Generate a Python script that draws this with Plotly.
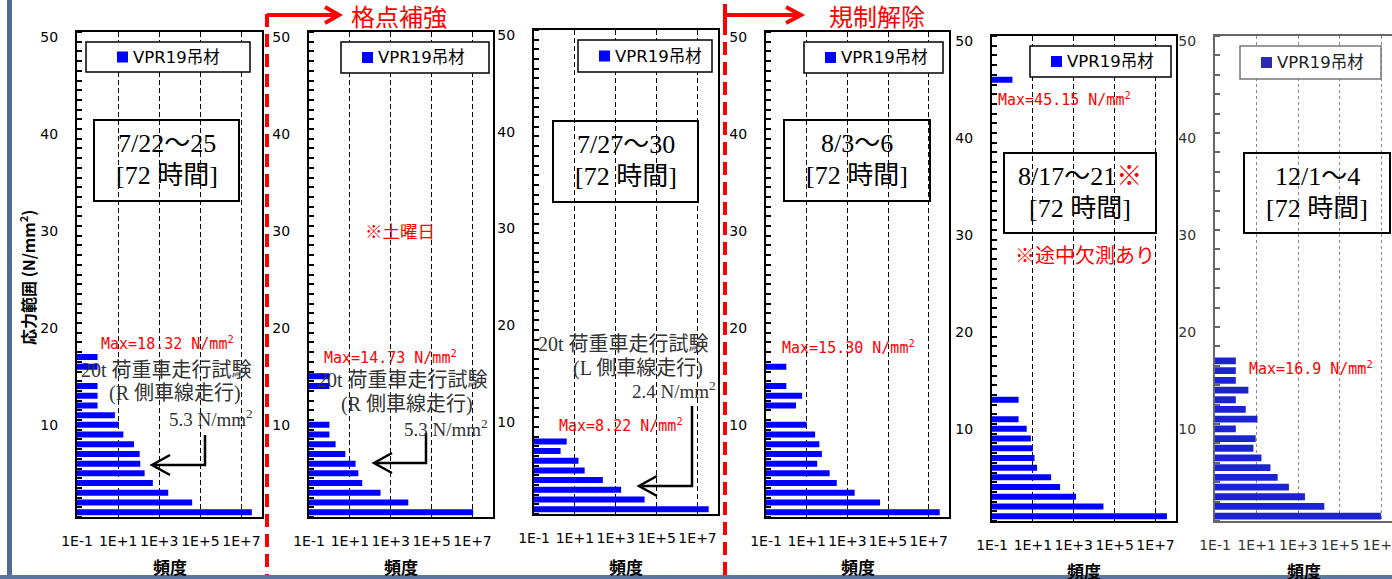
import plotly.graph_objects as go

W, H = 1392, 579

# ---------------- data ----------------
series_name = "VPR19吊材"
tick_vals = [0.1, 10, 1e3, 1e5, 1e7]
tick_text = ["1E-1", "1E+1", "1E+3", "1E+5", "1E+7"]
y_tick_vals = [10, 20, 30, 40, 50]

# stress-range bin (N/mm2, 1 N/mm2 bins) and frequency for each panel
bins_p1 = [1, 2, 3, 4, 5, 6, 7, 8, 9, 10, 11, 12, 13, 14, 16, 17]
freq_p1 = [3.2e7, 40000, 2750, 490, 195, 120, 112, 59, 18, 11, 7, 1, 1, 1, 1, 1]

bins_p2 = [1, 2, 3, 4, 5, 6, 7, 8, 9, 10, 14, 15]
freq_p2 = [1.07e7, 7200, 316, 40, 26, 19, 6, 2, 1, 1, 1, 1]

bins_p3 = [1, 2, 3, 4, 5, 6, 7, 8]
freq_p3 = [3.5e7, 25700, 1820, 234, 30, 15, 2, 4]

bins_p4 = [1, 2, 3, 4, 5, 6, 7, 8, 9, 10, 12, 13, 14, 16]
freq_p4 = [3.5e7, 40700, 2290, 302, 135, 33, 56, 42, 26, 10, 3, 6, 1, 1]

bins_p5 = [1, 2, 3, 4, 5, 6, 7, 8, 9, 10, 11, 13, 46]
freq_p5 = [3.6e7, 28200, 1290, 214, 78, 16, 12, 10, 8, 5, 2, 2, 1]

bins_p6 = [1, 2, 3, 4, 5, 6, 7, 8, 9, 10, 11, 12, 13, 14, 15, 16, 17]
freq_p6 = [9.3e6, 17800, 2090, 355, 102, 46, 17, 7, 9, 1, 11, 3, 1, 4, 1, 1, 1]

max_labels = ["Max=18.32 N/mm<sup>2</sup>", "Max=14.73 N/mm<sup>2</sup>", "Max=8.22 N/mm<sup>2</sup>",
              "Max=15.30 N/mm<sup>2</sup>", "Max=45.15 N/mm<sup>2</sup>", "Max=16.9 N/mm<sup>2</sup>"]
date_labels = ["7/22～25", None, "7/27～30", "8/3～6",
               "8/17～21<span style='color:#ff0000'>※</span>", "12/1～4"]
hours_label = "[72 時間]"

# ---------------- layout helpers ----------------
def X(px):
    return px / W

def Y(py):
    return 1 - py / H

RED = "#ff0000"
BLUE = "#0000ff"
SERIF = "Liberation Serif, Noto Sans CJK JP"
GOTHIC = "Noto Sans CJK JP"
SANS = "DejaVu Sans, Noto Sans CJK JP"
MONO = "DejaVu Sans Mono"

panels = [
    dict(x0=77, x1=262, top=32, bot=517, xr=8, bins=bins_p1, freq=freq_p1),
    dict(x0=309, x1=493, top=32, bot=517, xr=8, bins=bins_p2, freq=freq_p2),
    dict(x0=534, x1=718, top=30, bot=514, xr=8, bins=bins_p3, freq=freq_p3),
    dict(x0=766, x1=949, top=32, bot=517, xr=8, bins=bins_p4, freq=freq_p4),
    dict(x0=992, x1=1176, top=36, bot=521, xr=8, bins=bins_p5, freq=freq_p5),
    dict(x0=1215, x1=1392, top=36, bot=521, xr=7.5, bins=bins_p6, freq=freq_p6),
]

fig = go.Figure()
layout = dict(width=W, height=H, autosize=False,
              margin=dict(l=0, r=0, t=0, b=0, pad=0, autoexpand=False),
              paper_bgcolor="white", plot_bgcolor="white", showlegend=False)
shapes = []
annotations = []


def rect(x0, y0, x1, y1, color="black", width=1.5, fill="rgba(0,0,0,0)", layer="above"):
    shapes.append(dict(type="rect", xref="paper", yref="paper", x0=X(x0), x1=X(x1),
                       y0=Y(y1), y1=Y(y0), line=dict(color=color, width=width),
                       fillcolor=fill, layer=layer))


def path(points, color="black", width=2, dash="solid"):
    d = "M " + " L ".join(f"{X(a):.5f},{Y(b):.5f}" for a, b in points)
    shapes.append(dict(type="path", xref="paper", yref="paper", path=d,
                       line=dict(color=color, width=width, dash=dash), layer="above"))


def text(s, x, y, size, color="black", family=SANS, xanchor="left", angle=0):
    annotations.append(dict(text=s, x=X(x), y=Y(y), xref="paper", yref="paper",
                            xanchor=xanchor, yanchor="middle", showarrow=False,
                            textangle=angle, font=dict(size=size, color=color, family=family)))


for i, p in enumerate(panels):
    n = "" if i == 0 else str(i + 1)
    last = i == 5
    frame = "#666666" if last else "black"
    grid = "#888888" if last else "black"
    tcol = "#333333" if last else "black"
    fig.add_trace(go.Bar(x=p["freq"], y=p["bins"], orientation="h", name=series_name,
                         marker=dict(color="#1c24d0" if last else BLUE, line=dict(width=0)),
                         width=0.7 if last else 0.62,
                         xaxis="x" + n, yaxis="y" + n))
    layout["xaxis" + n] = dict(
        type="log", range=[-1, p["xr"]], domain=[X(p["x0"]), X(p["x1"])], anchor="y" + n,
        tickmode="array", tickvals=tick_vals, ticktext=tick_text, ticks="", tickangle=0,
        ticklabeloverflow="allow",
        showgrid=True, gridcolor=grid, gridwidth=1, griddash="dot" if last else "5px,3px",
        showline=True, mirror=True, linecolor=frame, linewidth=2, zeroline=False,
        automargin=False,
        tickfont=dict(family="DejaVu Sans", size=14, color=tcol), ticklabelstandoff=10)
    layout["yaxis" + n] = dict(
        range=[0.5, 50.5], domain=[Y(p["bot"]), Y(p["top"])], anchor="x" + n,
        tickmode="array", tickvals=y_tick_vals, ticks="", automargin=False,
        minor=dict(tick0=0.5, dtick=2 if last else 1, ticks="inside", ticklen=5,
                   tickcolor=frame, tickwidth=1.5, showgrid=False),
        showgrid=False, showline=True, mirror=not last, linecolor=frame, linewidth=2,
        zeroline=False, tickfont=dict(family="DejaVu Sans", size=14, color=tcol),
        ticklabelstandoff=14)

    # x-axis title
    text("<b>頻度</b>", (p["x0"] + min(p["x1"], p["x0"] + 185)) / 2,
         566 if i < 4 else 570, 17, family=GOTHIC, xanchor="center")

# legend boxes (series key) for each panel
legend_boxes = [(86, 42, 250, 72), (341, 42, 489, 73), (578, 40, 712, 72),
                (804, 42, 943, 73), (1030, 46, 1171, 77), (1240, 46, 1381, 79)]
for i, (x0, y0, x1, y1) in enumerate(legend_boxes):
    last = i == 5
    rect(x0, y0, x1, y1, color="#777777" if last else "black", width=1.5, fill="white")
    sx = x0 + 31 if i == 0 else x0 + 21
    yc = (y0 + y1) / 2
    rect(sx, yc - 5.5, sx + 11, yc + 5.5, color="#2a2ab0" if last else BLUE, width=0,
         fill="#2a2ab0" if last else BLUE)
    text(series_name, sx + 14, yc, 16.5, color="#222222" if last else "black", family=SANS)

# date boxes
date_boxes = [(94, 120, 239, 201), None, (553, 121, 698, 202), (784, 120, 930, 201),
              (1004, 153, 1156, 233), (1244, 153, 1390, 233)]
for i, b in enumerate(date_boxes):
    if b is None:
        continue
    x0, y0, x1, y1 = b
    rect(x0, y0, x1, y1, color="black", width=2)
    cx = (x0 + x1) / 2
    text(date_labels[i], cx, y0 + 23, 26, family=SERIF, xanchor="center")
    text(hours_label, cx, y0 + 55, 26, family=SERIF, xanchor="center")

# Max labels
max_pos = [(99, 343), (322, 357), (557, 425), (780, 347), (996, 99), (1247, 368)]
for (x, y), s in zip(max_pos, max_labels):
    text(s, x, y, 15, color=RED, family=MONO)

# test-run notes and arrows
DARK = "#333333"
text("20t 荷重車走行試験", 254, 370, 20, color=DARK, family=SERIF, xanchor="right")
text("(R 側車線走行)", 243, 393, 20, color=DARK, family=SERIF, xanchor="right")
text("5.3 N/mm<sup>2</sup>", 255, 418, 19, color=DARK, family=SERIF, xanchor="right")
path([(205, 435), (205, 465), (153, 465)], width=2.5)
path([(170, 455), (152, 465), (170, 475)], width=2.5)

text("20t 荷重車走行試験", 490, 380, 20, color=DARK, family=SERIF, xanchor="right")
text("(R 側車線走行)", 475, 404, 20, color=DARK, family=SERIF, xanchor="right")
text("5.3 N/mm<sup>2</sup>", 490, 428, 19, color=DARK, family=SERIF, xanchor="right")
path([(426, 433), (426, 463), (375, 463)], width=2.5)
path([(392, 453), (374, 463), (392, 473)], width=2.5)

text("20t 荷重車走行試験", 711, 344, 20, color=DARK, family=SERIF, xanchor="right")
text("(L 側車線走行)", 705, 368, 20, color=DARK, family=SERIF, xanchor="right")
text("2.4 N/mm<sup>2</sup>", 718, 390, 19, color=DARK, family=SERIF, xanchor="right")
path([(692, 406), (692, 486), (640, 486)], width=2.5)
path([(657, 476), (639, 486), (657, 496)], width=2.5)

text("※土曜日", 363, 230, 17.5, color=RED, family=GOTHIC)
text("※途中欠測あり", 1013, 256, 20, color=RED, family=SERIF)

# y-axis title
text("<b>応力範囲 (N/mm<sup>2</sup>)</b>", 27, 278, 16, family=GOTHIC, xanchor="center", angle=-90)

# phase separators and arrows
path([(267, 14), (267, 579)], color=RED, width=4, dash="13px,7px")
path([(267, 15), (338, 15)], color=RED, width=4)
path([(325, 7), (339, 15), (325, 23)], color=RED, width=4)
text("格点補強", 349, 16, 24, color=RED, family=GOTHIC)

path([(725, 4), (725, 22)], color=RED, width=4)
path([(725, 22), (725, 579)], color=RED, width=4, dash="13px,7px")
path([(725, 15), (800, 15)], color=RED, width=4)
path([(786, 7), (801, 15), (786, 23)], color=RED, width=4)
text("規制解除", 827, 16, 24, color=RED, family=GOTHIC)

# page frame lines
rect(7, 0, 12, 579, color="#4f6a95", width=0, fill="#4f6a95")
rect(0, 575, 1392, 579, color="#5a76a0", width=0, fill="#5a76a0")

layout["shapes"] = shapes
layout["annotations"] = annotations
fig.update_layout(**layout)
fig.write_html("out.html", config={"responsive": False, "displayModeBar": False},
               post_script="document.body.style.margin='0px';document.body.style.overflow='hidden';")
